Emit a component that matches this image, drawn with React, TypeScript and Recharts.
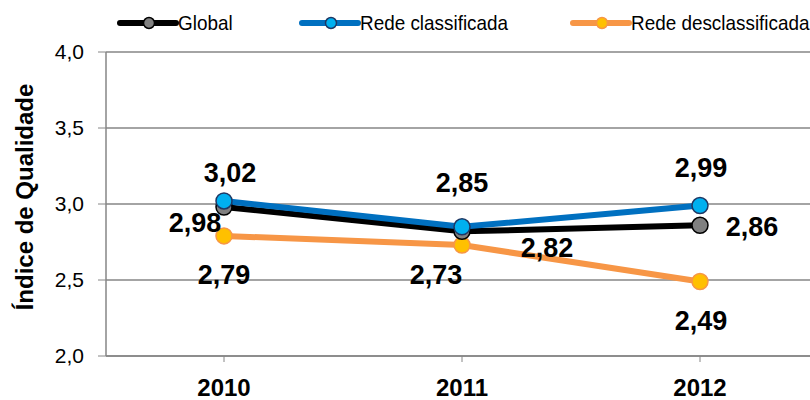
import React from 'react';
import { LineChart, Line, XAxis, YAxis, CartesianGrid, LabelList } from 'recharts';

const years = ['2010', '2011', '2012'];
const globalVals = [2.98, 2.82, 2.86];
const classificadaVals = [3.02, 2.85, 2.99];
const desclassificadaVals = [2.79, 2.73, 2.49];
const yTicks = [2.0, 2.5, 3.0, 3.5, 4.0];
const seriesNames = ['Global', 'Rede classificada', 'Rede desclassificada'];

const data = years.map((y, i) => ({
  year: y,
  global: globalVals[i],
  classificada: classificadaVals[i],
  desclassificada: desclassificadaVals[i],
}));

const FONT = '"Liberation Sans", Arial, sans-serif';
const fmt = (v: number) => v.toFixed(2).replace('.', ',');
const LABEL_SIZE = 27;

const makeLabel = (offsets: { dx: number; dy: number }[]) => (props: any) => {
  const { x, y, value, index } = props;
  const o = offsets[index] || { dx: 0, dy: 0 };
  return (
    <text
      x={x + o.dx}
      y={y + o.dy + LABEL_SIZE * 0.358}
      textAnchor="middle"
      fontFamily={FONT}
      fontWeight="bold"
      fontSize={LABEL_SIZE}
      fill="#000"
    >
      {fmt(value)}
    </text>
  );
};

// offsets of label centre from its point
const globalOffsets = [{ dx: -29, dy: 15 }, { dx: 85, dy: 16 }, { dx: 52, dy: 1 }];
const classOffsets = [{ dx: 6, dy: -29 }, { dx: 0, dy: -44 }, { dx: 1, dy: -38 }];
const desclOffsets = [{ dx: 0, dy: 38 }, { dx: -26, dy: 29 }, { dx: 1, dy: 39 }];

const legendItems = [
  { name: seriesNames[0], line: '#000000', fill: '#808080', stroke: '#000000', x: 120 },
  { name: seriesNames[1], line: '#0070C0', fill: '#00B0F0', stroke: '#1F3864', x: 302 },
  { name: seriesNames[2], line: '#F79646', fill: '#FFC000', stroke: '#F79646', x: 573 },
];

const LegendSvg = () => (
  <svg width={810} height={40} style={{ position: 'absolute', left: 0, top: 0 }}>
    {legendItems.map((it) => (
      <g key={it.name}>
        <line x1={it.x} y1={23} x2={it.x + 56} y2={23} stroke={it.line} strokeWidth={6} strokeLinecap="round" />
        <circle cx={it.x + 29} cy={23} r={5.5} fill={it.fill} stroke={it.stroke} strokeWidth={1.5} />
        <text
          transform={`translate(${it.x + 58},30) scale(0.9,1)`}
          fontFamily={FONT}
          fontSize={21}
          fill="#000"
        >
          {it.name}
        </text>
      </g>
    ))}
  </svg>
);

const YLabel = (props: any) => {
  const vb = props.viewBox || { x: 0, y: 52, width: 106, height: 304 };
  const cx = 33;
  const cy = vb.y + vb.height / 2 - 7;
  return (
    <text
      x={cx}
      y={cy}
      transform={`rotate(-90, ${cx}, ${cy})`}
      textAnchor="middle"
      fontFamily={FONT}
      fontWeight="bold"
      fontSize={24}
      fill="#000"
    >
      Índice de Qualidade
    </text>
  );
};

export default function App() {
  return (
    <div style={{ position: 'absolute', left: 0, top: 0, width: 810, height: 400, overflow: 'hidden', background: '#fff' }}>
      <LineChart width={820} height={400} data={data} margin={{ top: 52, right: 2, bottom: 0, left: 0 }}>
        <CartesianGrid vertical={false} stroke="#868686" strokeWidth={1.5} />
        <XAxis
          dataKey="year"
          height={44}
          padding={{ left: 118, right: 118 }}
          axisLine={{ stroke: '#868686', strokeWidth: 1.5 }}
          tickLine={{ stroke: '#868686' }}
          tickSize={6}
          tick={{ fontFamily: FONT, fontWeight: 'bold', fontSize: 24, fill: '#000' }}
          tickMargin={17}
        />
        <YAxis
          domain={[2, 4]}
          ticks={yTicks}
          width={106}
          axisLine={{ stroke: '#868686', strokeWidth: 1.5 }}
          tickLine={{ stroke: '#868686' }}
          tickSize={8}
          tickMargin={14}
          tick={{ fontFamily: FONT, fontSize: 21, fill: '#000' }}
          tickFormatter={(v: number) => v.toFixed(1).replace('.', ',')}
          label={<YLabel />}
        />
        <Line
          dataKey="desclassificada"
          name={seriesNames[2]}
          stroke="#F79646"
          strokeWidth={6}
          dot={{ r: 8, fill: '#FFC000', stroke: '#F79646', strokeWidth: 1.5 }}
          isAnimationActive={false}
        >
          <LabelList dataKey="desclassificada" content={makeLabel(desclOffsets)} />
        </Line>
        <Line
          dataKey="global"
          name={seriesNames[0]}
          stroke="#000000"
          strokeWidth={6}
          dot={{ r: 8, fill: '#808080', stroke: '#000', strokeWidth: 1.5 }}
          isAnimationActive={false}
        >
          <LabelList dataKey="global" content={makeLabel(globalOffsets)} />
        </Line>
        <Line
          dataKey="classificada"
          name={seriesNames[1]}
          stroke="#0070C0"
          strokeWidth={6}
          dot={{ r: 8, fill: '#00B0F0', stroke: '#1F3864', strokeWidth: 1.5 }}
          isAnimationActive={false}
        >
          <LabelList dataKey="classificada" content={makeLabel(classOffsets)} />
        </Line>
      </LineChart>
      <LegendSvg />
    </div>
  );
}
